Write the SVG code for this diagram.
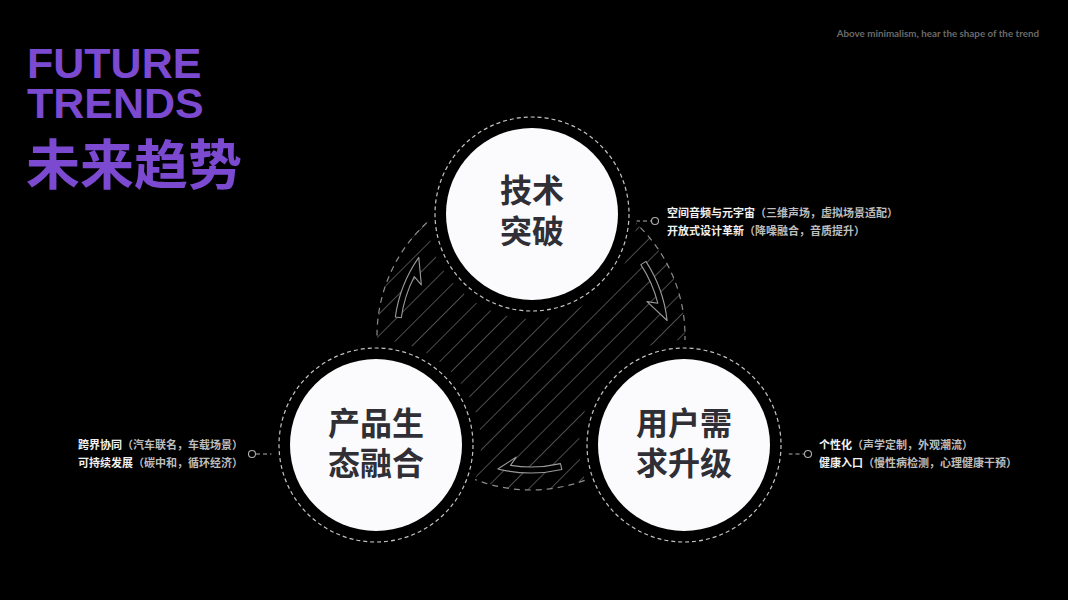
<svg xmlns="http://www.w3.org/2000/svg" width="1068" height="600" viewBox="0 0 1068 600">
<defs>
<style>
.title{font-family:"Liberation Sans",Arial,sans-serif;font-weight:700;fill:#7b4ad1}
.cjk{font-family:"Noto Sans CJK SC","Noto Sans",sans-serif;font-weight:700}
.node-text{font-size:32px;fill:#2f2f35;text-anchor:middle}
.lbl{font-size:11px;fill:#f2f2f2}
.lbl .sub{fill:#bdbdbd}
.ring{fill:none;stroke:#c4c4c4;stroke-width:1.2;stroke-dasharray:4 3}
.disk{fill:#000}
.face{fill:#fbfbfd}
.conn{fill:none;stroke:#b0b0b0;stroke-width:1.1;stroke-dasharray:4 3}
.dot{fill:#000;stroke:#b0b0b0;stroke-width:1.1}
.arrow{fill:#000;stroke:#9a9a9a;stroke-width:1.1;stroke-linejoin:round}
</style>
<pattern id="hatch" patternUnits="userSpaceOnUse" width="15.3" height="15.3" patternTransform="rotate(45)">
<line x1="0" y1="0" x2="0" y2="15.3" stroke="#8a8a8a" stroke-width="1.1"/>
</pattern>
<clipPath id="bigclip"><circle cx="531" cy="336" r="154"/></clipPath>
</defs>
<rect width="1068" height="600" fill="#000"/>

<g id="title">
<text class="title" x="27" y="78" font-size="43">FUTURE<tspan x="27" y="118">TRENDS</tspan></text>
<text class="cjk" x="26" y="185" font-size="54" fill="#7b4ad1">未来趋势</text>
</g>
<text x="1039" y="37" text-anchor="end" font-family="Lato,'Liberation Sans',sans-serif" font-weight="700" font-size="9.8" fill="#6a6a6a">Above minimalism, hear the shape of the trend</text>

<g id="cycle">
<rect x="377" y="182" width="308" height="308" fill="url(#hatch)" clip-path="url(#bigclip)"/>
<circle cx="531" cy="336" r="154" fill="none" stroke="#8c8c8c" stroke-width="1.2" stroke-dasharray="6 5"/>
<path class="arrow" d="M395.33,316.93 A137,137 0 0 1 418.77,257.42 L421.34,284.86 L414.28,276.53 A131,131 0 0 0 401.27,317.76 Z"/>
<path class="arrow" d="M645.90,261.39 A137,137 0 0 1 667.12,320.49 L647.02,301.63 L657.83,303.20 A131,131 0 0 0 640.87,264.66 Z"/>
<path class="arrow" d="M561.82,469.49 A137,137 0 0 1 497.86,468.93 L516.13,457.09 L510.51,465.39 A131,131 0 0 0 560.47,463.64 Z"/>
</g>

<g id="connectors">
<line class="conn" x1="629" y1="221" x2="651" y2="221"/>
<circle class="dot" cx="655" cy="221" r="3.5"/>
<line class="conn" x1="256" y1="454" x2="279.5" y2="454"/>
<circle class="dot" cx="252" cy="454" r="3.5"/>
<line class="conn" x1="781.5" y1="454" x2="804" y2="454"/>
<circle class="dot" cx="808" cy="454" r="3.5"/>
</g>

<g id="node-tech">
<circle class="disk" cx="532" cy="214" r="105"/>
<circle class="ring" cx="532" cy="214" r="97"/>
<circle class="face" cx="532" cy="214" r="86"/>
<text class="cjk node-text" x="532" y="202">技术<tspan x="532" y="243">突破</tspan></text>
</g>

<g id="node-eco">
<circle class="disk" cx="376" cy="445" r="105"/>
<circle class="ring" cx="376" cy="445" r="97"/>
<circle class="face" cx="376" cy="445" r="86"/>
<text class="cjk node-text" x="376" y="435">产品生<tspan x="376" y="475">态融合</tspan></text>
</g>

<g id="node-user">
<circle class="disk" cx="684" cy="445" r="105"/>
<circle class="ring" cx="684" cy="445" r="97"/>
<circle class="face" cx="684" cy="445" r="86"/>
<text class="cjk node-text" x="684" y="435">用户需<tspan x="684" y="475">求升级</tspan></text>
</g>

<g id="label-tech">
<text class="cjk lbl" x="667" y="217">空间音频与元宇宙<tspan class="sub">（三维声场，虚拟场景适配）</tspan></text>
<text class="cjk lbl" x="667" y="235">开放式设计革新<tspan class="sub">（降噪融合，音质提升）</tspan></text>
</g>
<g id="label-eco">
<text class="cjk lbl" x="243" y="449" text-anchor="end">跨界协同<tspan class="sub">（汽车联名，车载场景）</tspan></text>
<text class="cjk lbl" x="243" y="467" text-anchor="end">可持续发展<tspan class="sub">（碳中和，循环经济）</tspan></text>
</g>
<g id="label-user">
<text class="cjk lbl" x="819" y="449">个性化<tspan class="sub">（声学定制，外观潮流）</tspan></text>
<text class="cjk lbl" x="819" y="467">健康入口<tspan class="sub">（慢性病检测，心理健康干预）</tspan></text>
</g>
</svg>
